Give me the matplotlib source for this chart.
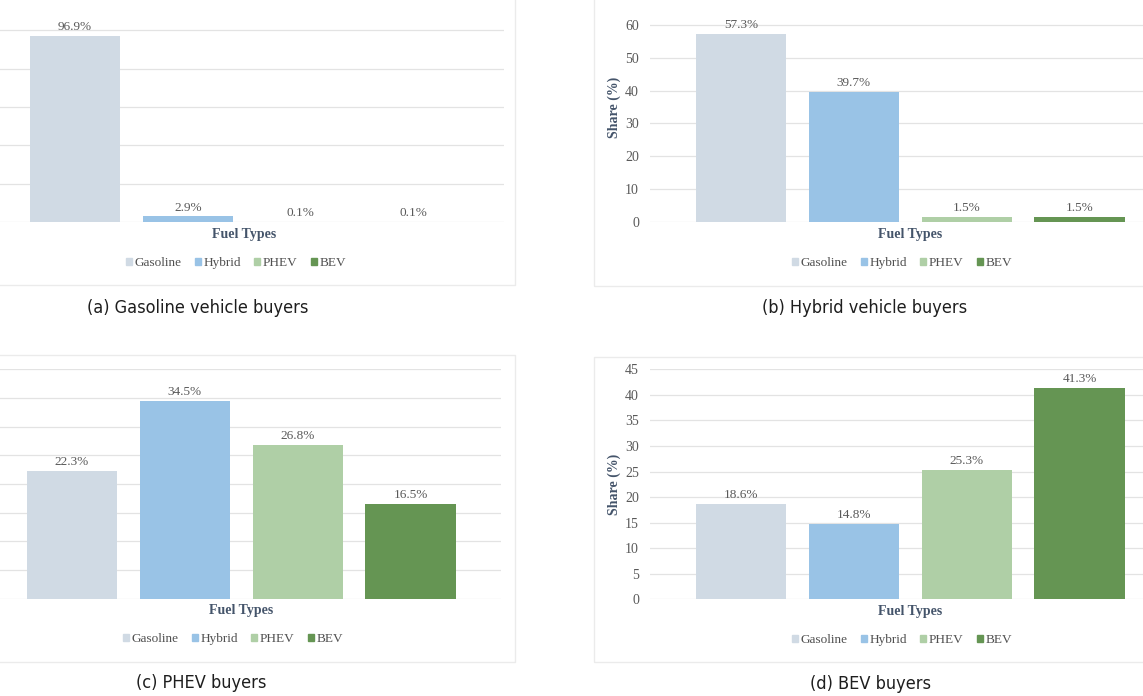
import matplotlib.pyplot as plt
from matplotlib.patches import Rectangle, Patch

fuel_types = ["Gasoline", "Hybrid", "PHEV", "BEV"]
colors = ["#d0dae4", "#99c3e6", "#afcfa6", "#659553"]

share_gasoline = [96.9, 2.9, 0.1, 0.1]
share_hybrid = [57.3, 39.7, 1.5, 1.5]
share_phev = [22.3, 34.5, 26.8, 16.5]
share_bev = [18.6, 14.8, 25.3, 41.3]

captions = ["(a) Gasoline vehicle buyers", "(b) Hybrid vehicle buyers",
            "(c) PHEV buyers", "(d) BEV buyers"]

serif = ["Liberation Serif", "DejaVu Serif"]
txt_gray = "#595959"
title_col = "#44546a"

W, H = 1143, 696
fig = plt.figure(figsize=(W / 100, H / 100), dpi=100)

# data, left px, top px, bottom px of plot area, ylim top, tick step, y labels shown, last tick
panels = [
    (share_gasoline, -16, -8, 222, 120, 20, False, 100),
    (share_hybrid, 650, -8, 222, 70, 10, True, 60),
    (share_phev, -19, 369.3, 598.5, 40, 5, False, 40),
    (share_bev, 650, 369.3, 599.3, 45, 5, True, 45),
]
ax_w = 520

# chart-area borders
borders = [(-10, -10, 515, 285), (594, -10, 1160, 286),
           (-10, 355, 515, 662), (594, 357, 1160, 662)]
for x0, y0, x1, y1 in borders:
    fig.patches.append(Rectangle((x0 / W, 1 - y1 / H), (x1 - x0) / W, (y1 - y0) / H,
                                 transform=fig.transFigure, fill=False,
                                 edgecolor="#ebebeb", linewidth=1.0))

for vals, left, top, bottom, ymax, step, show_y, last in panels:
    ax = fig.add_axes([left / W, 1 - bottom / H, ax_w / W, (bottom - top) / H])
    x = range(len(fuel_types))
    bars = ax.bar(x, vals, width=0.8, color=colors, zorder=3)
    for b, v in zip(bars, vals):
        ax.annotate(f"{v}%", (b.get_x() + b.get_width() / 2, v), xytext=(0, 2),
                    textcoords="offset points", ha="center", va="bottom",
                    fontsize=9.5, color=txt_gray, family=serif)
    ax.set_xlim(-0.805, 3.8)
    ax.set_ylim(0, ymax)
    ax.set_yticks(range(0, last + 1, step))
    ax.grid(axis="y", color="#e3e3e3", linewidth=0.9, zorder=0)
    for s in ax.spines.values():
        s.set_visible(False)
    ax.set_xticks([])
    ax.tick_params(axis="y", length=0, labelsize=10, labelcolor=txt_gray, pad=8,
                   labelleft=show_y)
    for lbl in ax.get_yticklabels():
        lbl.set_family(serif)
    if show_y:
        ax.set_ylabel("Share (%)", fontsize=10, fontweight="bold", color=title_col,
                      family=serif, labelpad=3)
    ax.set_xlabel("Fuel Types", fontsize=10, fontweight="bold", color=title_col,
                  family=serif, labelpad=4)
    handles = [Patch(color=c, label=f) for c, f in zip(colors, fuel_types)]
    ax.legend(handles=handles, loc="upper center", bbox_to_anchor=(0.485, -0.1),
              ncol=4, frameon=False, handlelength=0.45, handleheight=0.45,
              handletextpad=0.2, columnspacing=1.0,
              prop={"family": serif, "size": 9.5}, labelcolor="#505050")

cap_pos = [(198, 308), (865, 308), (201, 683), (871, 684)]
for (cx, cy), cap in zip(cap_pos, captions):
    fig.text(cx / W, 1 - cy / H, cap, ha="center", va="center", fontsize=13,
             family="DejaVu Sans", fontstretch="condensed", color="#1e1e1e")

fig.savefig("out.png", dpi=100)
